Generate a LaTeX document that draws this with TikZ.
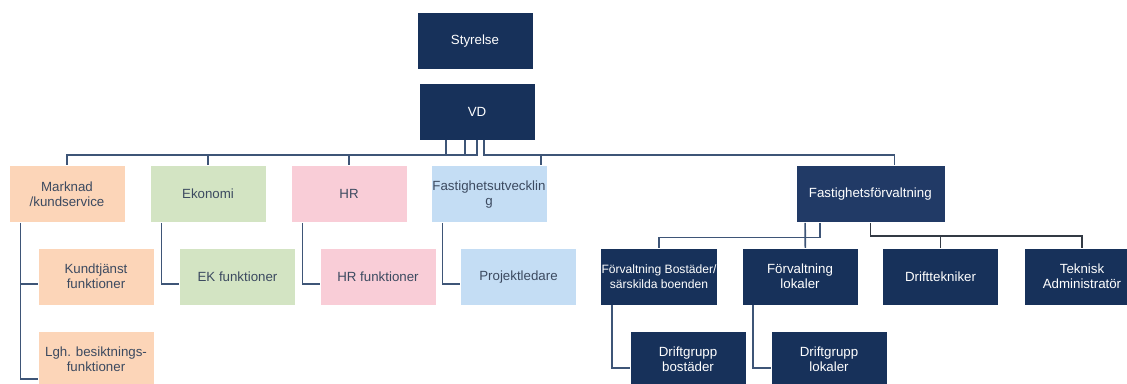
\documentclass[tikz,border=0pt]{standalone}
\usepackage{fontspec}
\setmainfont{Liberation Sans}
\usepackage{xcolor}
\usetikzlibrary{arrows,shapes,positioning}
\definecolor{navy}{HTML}{17315A}
\definecolor{navyb}{HTML}{213A66}
\definecolor{peach}{HTML}{FCD5B8}
\definecolor{sage}{HTML}{D3E4C3}
\definecolor{rose}{HTML}{F9CDD7}
\definecolor{sky}{HTML}{C4DDF4}
\definecolor{linec}{HTML}{3E5577}
\definecolor{linek}{HTML}{333A44}
\definecolor{txt}{HTML}{3C4A60}
\tikzstyle{box} =
  [rectangle, draw=white, line width=0.5pt, minimum width=116pt,
   minimum height=57pt, align=center, inner sep=1pt,
   font=\fontsize{13.3}{15}\selectfont]
\tikzstyle{darkblock} = [box, fill=navy, text=white]
\tikzstyle{lightblock} = [box, text=txt]
\tikzstyle{conn}=[draw,linec,line width=1.6pt]

\begin{document}
\begin{tikzpicture}[x=1pt, y=-1pt]
  \useasboundingbox (0,0) rectangle (1127,383);

  \node [darkblock] at (475,41) (st) {Styrelse};
  \node [darkblock, below of=st, xshift=2pt, node distance=70.7pt] (vd) {VD};
  \coordinate (bus) at (0,155);

  % left side
  \node [lightblock, fill=peach] at (67,194.2) (ma) {Marknad\\/kundservice};
  \node [lightblock, fill=peach, below of=ma, xshift=29pt, node distance=82.5pt] (kt) {Kundtjänst\\funktioner};
  \node [lightblock, fill=peach, below of=kt, node distance=83pt] (lg) {Lgh. besiktnings-\\funktioner};
  \node [lightblock, fill=sage] at (208,194.2) (ek) {Ekonomi};
  \node [lightblock, fill=sage, below of=ek, xshift=29.5pt, node distance=82.5pt] (ekf) {EK funktioner};
  \node [lightblock, fill=rose] at (349,194.2) (hr) {HR};
  \node [lightblock, fill=rose, below of=hr, xshift=29pt, node distance=82.5pt] (hrf) {HR funktioner};
  \node [lightblock, fill=sky] at (489,194.2) (fu) {Fastighetsutvecklin\\g};
  \node [lightblock, fill=sky, below of=fu, xshift=29.5pt, node distance=82.5pt] (pl) {Projektledare};

  % right side
  \node [darkblock, fill=navyb, minimum width=149pt] at (870.3,194.2) (ff) {Fastighetsförvaltning};
  \node [darkblock, font=\fontsize{12.1}{15}\selectfont] at (659,276.7) (fb) {Förvaltning Bostäder/\\särskilda boenden};
  \node [darkblock] at (800,276.7) (fl) {Förvaltning\\lokaler};
  \node [darkblock] at (940.5,276.7) (dt) {Drifttekniker};
  \node [darkblock] at (1082,276.7) (ta) {Teknisk\\Administratör};
  \node [darkblock, below of=fb, xshift=29pt, node distance=83pt] (db) {Driftgrupp\\bostäder};
  \node [darkblock, below of=fl, xshift=29pt, node distance=83pt] (dl) {Driftgrupp\\lokaler};

  \coordinate (futop) at ([xshift=52pt]fu.north);
  \coordinate (fftop) at ([xshift=24pt]ff.north);

  \draw [conn] ([xshift=-31.3pt]vd.south) |- (bus -| ma.north) -- (ma.north);
  \draw [conn] ([xshift=-12.3pt]vd.south) |- (bus -| ek.north) -- (ek.north);
  \draw [conn] (vd.south) |- (bus -| hr.north) -- (hr.north);
  \draw [conn] ([xshift=7pt]vd.south) |- (bus -| futop) -- (futop);
  \draw [conn] ([xshift=7pt]vd.south) |- (bus -| fftop) -- (fftop);

  \draw [conn] ([xshift=11.7pt]ma.south west) |- ([yshift=-7.3pt]kt.west);
  \draw [conn] ([xshift=11.7pt]ma.south west) |- ([yshift=-19pt]lg.west);
  \draw [conn] ([xshift=11.7pt]ek.south west) |- ([yshift=-7.3pt]ekf.west);
  \draw [conn] ([xshift=11.7pt]hr.south west) |- ([yshift=-7.3pt]hrf.west);
  \draw [conn] ([xshift=11.7pt]fu.south west) |- ([yshift=-7.3pt]pl.west);

  \draw [conn] ([xshift=9.6pt]ff.south west) -- ([xshift=5.3pt]fl.north);
  \draw [conn] ([xshift=24.3pt]ff.south west) -- ++(0,14.6) -| (fb.north);
  \draw [conn, linek] (ff.south) -- ++(0,13.3) -| (ta.north);
  \draw [conn, linek] (dt.north) -- ++(0,-11.7);

  \draw [conn] ([xshift=12pt]fb.south west) |- ([yshift=-8pt]db.west);
  \draw [conn] ([xshift=11.3pt]fl.south west) |- ([yshift=-8pt]dl.west);

\end{tikzpicture}
\end{document}
